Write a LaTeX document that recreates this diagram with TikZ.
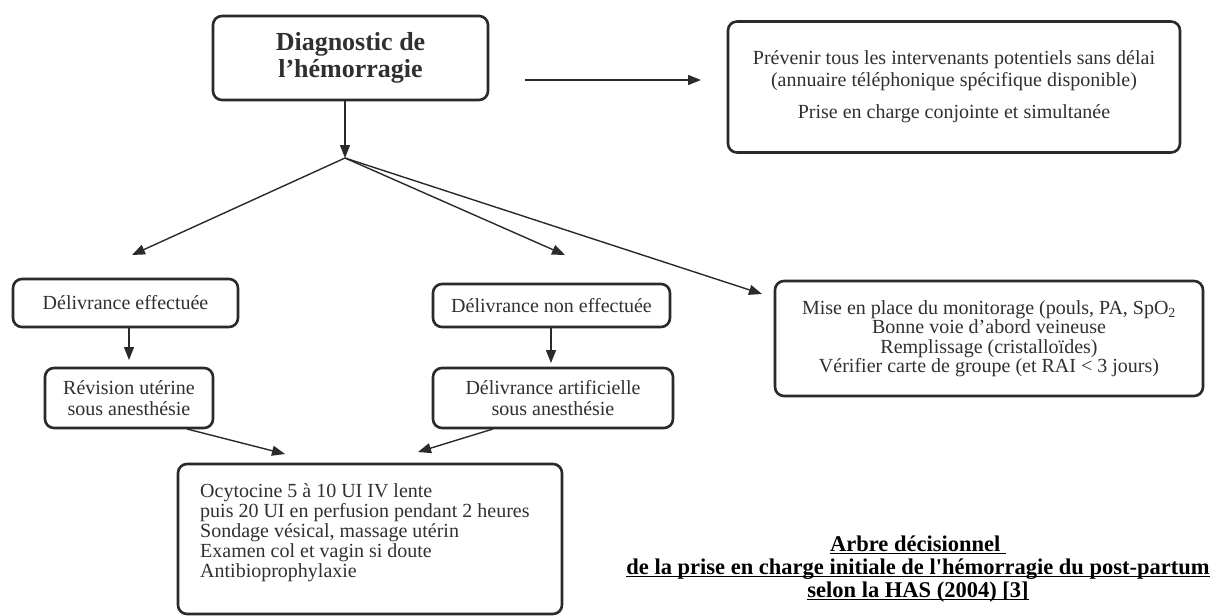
\documentclass[tikz,border=0pt]{standalone}
\usepackage{fontspec}
\setmainfont{Liberation Serif}
\usetikzlibrary{arrows.meta}
\definecolor{ink}{HTML}{2A2A2A}
\definecolor{txt}{HTML}{303030}
\newcommand\myul[1]{\setbox0\hbox{#1}\rlap{\rule[-3pt]{\wd0}{1.4pt}}\box0}
\begin{document}
\begin{tikzpicture}[x=1pt,y=-1pt,
  box/.style={draw=ink, line width=2.6pt, rounded corners=9pt, inner sep=0pt, text=txt, align=center,
              font=\fontsize{20}{21}\selectfont},
  arr/.style={draw=ink, line width=1.4pt, -{Triangle[length=13pt,width=10pt]}},
]
\useasboundingbox (0,0) rectangle (1219,616);
\fill[white] (0,0) rectangle (1219,616);

% boxes
\node[box, minimum width=275pt, minimum height=84pt, font=\bfseries\fontsize{26}{27}\selectfont]
  (diag) at (350.5,58) {Diagnostic de\\l’hémorragie};
\node[box, minimum width=452pt, minimum height=131pt, font=\fontsize{20}{22}\selectfont]
  (prev) at (954,87) {Prévenir tous les intervenants potentiels sans délai\\(annuaire téléphonique spécifique disponible)\\[10pt]Prise en charge conjointe et simultanée};
\node[box, minimum width=225pt, minimum height=48pt] (deleff) at (125.5,303) {Délivrance effectuée};
\node[box, minimum width=168pt, minimum height=60pt] (revis) at (129,398) {Révision utérine\\sous anesthésie};
\node[box, minimum width=237pt, minimum height=43pt] (delnon) at (551.5,305.5) {Délivrance non effectuée};
\node[box, minimum width=240pt, minimum height=60pt] (delart) at (553,398) {Délivrance artificielle\\sous anesthésie};
\node[box, minimum width=428pt, minimum height=115pt, font=\fontsize{20}{19.5}\selectfont]
  (monit) at (989,338.5) {Mise en place du monitorage (pouls, PA, SpO\textsubscript{2}\\Bonne voie d’abord veineuse\\Remplissage (cristalloïdes)\\Vérifier carte de groupe (et RAI < 3 jours)};
\node[box, minimum width=384pt, minimum height=150pt] (ocyt) at (370,539) {};
\node[anchor=north west, inner sep=0pt, align=left, text=txt, font=\fontsize{20}{20}\selectfont]
  (ocyttext) at (200,483) {Ocytocine 5 à 10 UI IV lente\\puis 20 UI en perfusion pendant 2 heures\\Sondage vésical, massage utérin\\Examen col et vagin si doute\\Antibioprophylaxie};

% caption
\node[align=center, inner sep=0pt, text=black, font=\bfseries\fontsize{22.5}{23}\selectfont]
  (cap) at (918,569) {\myul{Arbre décisionnel }\\\myul{de la prise en charge initiale de l\textquotesingle hémorragie du post-partum}\\\myul{selon la HAS (2004) [3]}};

% connectors
\coordinate (h1) at (525,80);
\coordinate (h2) at (701,80);
\draw[arr] (h1) -- (h2);
\coordinate (br) at (345,158);
\draw[arr] (diag.south -| br) -- (br);
\coordinate (t1) at (132,255);
\coordinate (t2) at (565,255);
\coordinate (t3) at (762,294);
\draw[arr] (br) -- (t1);
\draw[arr] (br) -- (t2);
\draw[arr] (br) -- (t3);
\coordinate (a1) at (129,360);
\draw[arr] (deleff.south -| a1) -- (a1);
\coordinate (a2) at (551,363);
\draw[arr] (delnon.south -| a2) -- (a2);
\coordinate (r1) at (187,429);
\coordinate (r2) at (285,454);
\draw[arr] (r1) -- (r2);
\coordinate (d1) at (493,429);
\coordinate (d2) at (418,452);
\draw[arr] (d1) -- (d2);
\end{tikzpicture}
\end{document}
